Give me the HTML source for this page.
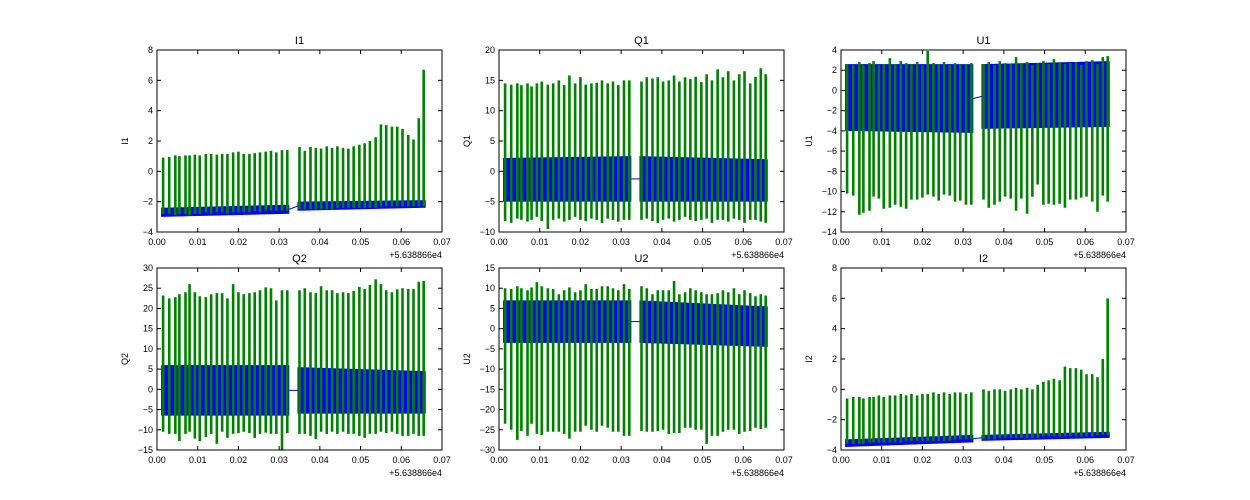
<!DOCTYPE html>
<html><head><meta charset="utf-8"><style>
html,body{margin:0;padding:0;background:#fff}
svg{display:block;font-family:"Liberation Sans","DejaVu Sans",sans-serif}
</style></head><body>
<svg id="fig" width="1250" height="500" viewBox="0 0 1250 500" xmlns="http://www.w3.org/2000/svg"></svg>
<script>
const spikeTimes=[0.0015,0.003,0.0045,0.0055,0.007,0.008,0.0093,0.0105,0.012,0.0133,0.0147,0.016,0.0173,0.0187,0.02,0.0213,0.0227,0.024,0.0253,0.0267,0.028,0.0293,0.0307,0.032,0.035,0.0363,0.0377,0.039,0.0403,0.0417,0.043,0.0443,0.0457,0.047,0.0483,0.0497,0.051,0.0523,0.0537,0.055,0.0563,0.0577,0.059,0.0603,0.0617,0.063,0.0643,0.0655];
const xTicks=[0,0.01,0.02,0.03,0.04,0.05,0.06,0.07];
const xTickLabels=["0.00","0.01","0.02","0.03","0.04","0.05","0.06","0.07"];
const bandTimes=[[0.001,0.0325],[0.0345,0.066]];

const i1Tops=[0.9,0.95,1.05,1.0,1.05,1.05,1.1,1.05,1.15,1.15,1.1,1.15,1.15,1.25,1.3,1.15,1.15,1.2,1.25,1.3,1.35,1.25,1.4,1.4,1.6,1.35,1.6,1.55,1.5,1.65,1.55,1.65,1.55,1.5,1.65,1.75,1.85,2.0,2.25,3.1,3.05,2.95,2.95,2.8,2.4,2.1,3.5,6.7];
const i1Bottoms=[-2.8,-2.8,-2.9,-2.8,-2.8,-2.9,-2.8,-2.8,-2.7,-2.8,-2.7,-2.7,-2.8,-2.7,-2.7,-2.7,-2.7,-2.6,-2.7,-2.6,-2.6,-2.6,-2.6,-2.6,-2.5,-2.5,-2.5,-2.5,-2.5,-2.5,-2.5,-2.4,-2.4,-2.4,-2.4,-2.4,-2.4,-2.4,-2.4,-2.3,-2.3,-2.3,-2.3,-2.3,-2.3,-2.3,-2.3,-2.3];
const i1Band=[[-3.0,-2.4,-2.8,-2.2],[-2.6,-2.0,-2.4,-1.9]];

const q1Tops=[14.5,14.3,14.5,14.2,14.5,14.0,14.5,14.8,14.3,14.5,15.0,14.2,15.8,14.5,15.5,14.3,14.5,14.6,15.0,14.5,14.8,14.2,15.0,15.0,14.8,15.5,15.3,15.5,14.8,15.0,15.8,14.8,15.5,15.2,15.6,14.7,16.0,15.0,16.8,15.5,16.5,15.0,16.0,16.5,14.5,15.6,17.0,16.0];
const q1Bottoms=[-8.2,-8.5,-7.8,-8.0,-8.3,-8.0,-7.5,-8.2,-9.5,-8.0,-7.8,-8.3,-8.0,-7.5,-8.0,-8.2,-7.8,-8.0,-8.5,-7.8,-8.0,-8.3,-8.0,-8.0,-8.0,-7.8,-8.2,-8.5,-8.0,-7.8,-8.3,-8.0,-7.5,-8.0,-8.2,-8.0,-7.8,-8.5,-8.0,-8.0,-8.3,-7.8,-8.0,-8.5,-8.0,-8.0,-8.3,-8.5];
const q1Band=[[-5,2.2,-5,2.5],[-5,2.5,-5,2.0]];

const u1Tops=[2.6,2.5,2.8,2.5,2.7,2.9,2.5,2.6,3.2,2.6,2.9,2.7,2.6,2.8,2.5,3.9,2.7,2.6,2.8,2.5,2.7,2.6,2.6,2.7,2.6,2.8,2.5,2.9,2.7,2.6,3.3,2.6,2.8,2.5,2.7,2.9,2.6,3.1,2.8,2.6,2.7,2.8,2.5,2.9,3.0,2.6,3.3,3.4];
const u1Bottoms=[-10.2,-10.4,-12.3,-12.1,-11.9,-10.5,-10.7,-11.7,-11.6,-11.3,-11.5,-11.7,-10.8,-10.8,-10.6,-10.3,-10.5,-10.9,-10.3,-10.4,-11.0,-10.9,-11.3,-11.3,-10.8,-11.6,-11.3,-11.0,-10.5,-10.7,-11.9,-10.7,-12.2,-10.5,-9.3,-11.3,-11.2,-11.3,-11.2,-11.6,-10.8,-10.8,-10.6,-10.5,-11.0,-12.0,-10.4,-11.0];
const u1Band=[[-4.0,2.6,-4.2,2.6],[-3.8,2.6,-3.6,2.9]];

const q2Tops=[23.2,22.5,22.8,23.5,24.0,26.0,24.0,23.0,22.8,23.5,23.8,23.8,22.5,26.0,24.0,23.5,23.8,24.0,24.5,25.2,25.0,22.0,24.5,24.5,24.5,25.0,24.0,23.8,25.5,24.5,24.5,23.8,24.0,23.8,24.3,25.3,24.8,25.8,27.2,26.0,24.5,24.0,24.7,25.0,24.8,24.8,26.6,26.8];
const q2Bottoms=[-10.5,-11.0,-11.0,-12.8,-11.0,-10.5,-12.2,-12.8,-11.8,-11.0,-13.5,-10.5,-12.0,-11.0,-10.8,-10.5,-10.8,-12.0,-11.0,-10.7,-11.0,-11.0,-15.0,-10.8,-11.0,-11.0,-11.5,-12.3,-10.5,-11.0,-10.5,-11.0,-10.5,-11.0,-11.0,-11.5,-12.0,-11.0,-11.0,-10.5,-10.8,-10.5,-11.0,-11.5,-11.5,-11.0,-11.5,-11.5];
const q2Band=[[-6.5,6.0,-6.5,6.0],[-6.0,5.5,-6.0,4.5]];

const u2Tops=[10.0,9.8,10.5,10.0,9.5,10.2,11.5,10.5,10.0,9.8,8.5,9.5,10.2,9.0,9.5,11.0,9.8,9.8,10.5,10.5,10.0,9.5,11.0,9.8,10.5,10.0,8.5,9.5,9.5,9.5,11.8,8.5,9.0,10.0,9.5,9.0,8.5,8.5,8.8,9.5,9.0,10.0,8.5,9.5,8.8,8.0,8.5,8.2];
const u2Bottoms=[-23.5,-25.0,-27.5,-25.3,-26.5,-23.5,-26.0,-26.3,-25.5,-25.5,-25.5,-26.0,-27.2,-25.5,-25.5,-24.0,-25.0,-25.5,-24.0,-24.5,-25.5,-25.5,-26.5,-26.5,-25.3,-25.5,-25.5,-25.3,-25.0,-26.0,-25.8,-25.8,-24.5,-24.5,-25.0,-25.0,-28.5,-26.5,-26.5,-25.5,-25.0,-25.0,-26.0,-25.5,-25.3,-24.5,-24.8,-24.5];
const u2Band=[[-3.5,7.0,-3.5,7.0],[-3.5,7.0,-4.5,5.5]];

const i2Tops=[-0.6,-0.5,-0.5,-0.6,-0.5,-0.5,-0.4,-0.5,-0.4,-0.4,-0.3,-0.4,-0.3,-0.4,-0.3,-0.3,-0.2,-0.3,-0.2,-0.3,-0.2,-0.2,-0.3,-0.2,0.0,-0.1,0.0,0.0,-0.1,0.0,0.1,0.0,0.1,0.0,0.3,0.5,0.6,0.7,0.6,1.5,1.4,1.4,1.3,1.0,1.0,0.8,2.0,6.0];
const i2Bottoms=[-3.6,-3.6,-3.6,-3.6,-3.5,-3.5,-3.5,-3.5,-3.5,-3.5,-3.5,-3.4,-3.4,-3.4,-3.4,-3.4,-3.4,-3.4,-3.4,-3.4,-3.3,-3.3,-3.3,-3.3,-3.3,-3.3,-3.3,-3.2,-3.2,-3.2,-3.2,-3.2,-3.2,-3.2,-3.2,-3.1,-3.1,-3.1,-3.1,-3.1,-3.1,-3.1,-3.1,-3.1,-3.1,-3.0,-3.0,-3.0];
const i2Band=[[-3.8,-3.3,-3.5,-3.0],[-3.4,-3.0,-3.2,-2.8]];

const panels=[
 {name:"I1",x:157,y:50,ymin:-4,ymax:8,step:2,tops:i1Tops,bottoms:i1Bottoms,band:i1Band},
 {name:"Q1",x:499,y:50,ymin:-10,ymax:20,step:5,tops:q1Tops,bottoms:q1Bottoms,band:q1Band},
 {name:"U1",x:841,y:50,ymin:-14,ymax:4,step:2,tops:u1Tops,bottoms:u1Bottoms,band:u1Band},
 {name:"Q2",x:157,y:268,ymin:-15,ymax:30,step:5,tops:q2Tops,bottoms:q2Bottoms,band:q2Band},
 {name:"U2",x:499,y:268,ymin:-30,ymax:15,step:5,tops:u2Tops,bottoms:u2Bottoms,band:u2Band},
 {name:"I2",x:841,y:268,ymin:-4,ymax:8,step:2,tops:i2Tops,bottoms:i2Bottoms,band:i2Band}
];
const W=285,H=182;
const NS="http://www.w3.org/2000/svg";
const fig=document.getElementById('fig');
function mk(tag,attrs,parent){const e=document.createElementNS(NS,tag);for(const k in attrs)e.setAttribute(k,attrs[k]);parent.appendChild(e);return e;}
panels.forEach(p=>{
 const g=mk('g',{},fig);
 
 
 const sx=v=>p.x+v/0.07*W;
 const sy=v=>p.y+H-(v-p.ymin)/(p.ymax-p.ymin)*H;
 const clipId='c'+p.name;
 const cp=mk('clipPath',{id:clipId},g);mk('rect',{x:p.x,y:p.y,width:W,height:H},cp);
 const plot=mk('g',{'clip-path':'url(#'+clipId+')'},g);
 
 
 // blue band
 p.band.forEach((b,i)=>{
  const t=bandTimes[i];
  const poly=mk('polygon',{points:`${sx(t[0])},${sy(b[0])} ${sx(t[1])},${sy(b[2])} ${sx(t[1])},${sy(b[3])} ${sx(t[0])},${sy(b[1])}`,fill:'#0000ff'},plot);
  
  
 });
 const b0=p.band[0],b1=p.band[1];
 const conn=mk('line',{x1:sx(bandTimes[0][1]),y1:sy((b0[2]+b0[3])/2),x2:sx(bandTimes[1][0]),y2:sy((b1[0]+b1[1])/2),stroke:'#0000ff','stroke-width':1},plot);
 
 
 // green spikes
 spikeTimes.forEach((t,i)=>{
  const l=mk('line',{x1:sx(t),x2:sx(t),y1:sy(p.tops[i]),y2:sy(p.bottoms[i]),stroke:'#008000','stroke-width':2.6},plot);
  
  
 });
 // frame
 const fr=mk('rect',{x:p.x,y:p.y,width:W,height:H,fill:'none',stroke:'#000','stroke-width':1},g);
 
 
 // x ticks
 xTicks.forEach((t,i)=>{
  const x=sx(t);
  mk('line',{x1:x,x2:x,y1:p.y+H,y2:p.y+H-4,stroke:'#000'},g);
  mk('line',{x1:x,x2:x,y1:p.y,y2:p.y+4,stroke:'#000'},g);
  const tx=mk('text',{x:x,y:p.y+H+13,'font-size':9,'text-anchor':'middle',fill:'#000'},g);
  tx.textContent=xTickLabels[i];
  
  
 });
 for(let v=p.ymin;v<=p.ymax+1e-9;v+=p.step){
  const y=sy(v);
  mk('line',{x1:p.x,x2:p.x+4,y1:y,y2:y,stroke:'#000'},g);
  mk('line',{x1:p.x+W,x2:p.x+W-4,y1:y,y2:y,stroke:'#000'},g);
  const tx=mk('text',{x:p.x-4,y:y+3,'font-size':9,'text-anchor':'end',fill:'#000'},g);
  tx.textContent=(v<0?'\u2212':'')+Math.abs(v);
  
  
 }
 const ti=mk('text',{x:p.x+W/2,y:p.y-6,'font-size':11,'text-anchor':'middle',fill:'#000'},g);
 ti.textContent=p.name;
 
 
 const yl=mk('text',{x:p.x-29,y:p.y+H/2,'font-size':9,'text-anchor':'middle',fill:'#000',transform:`rotate(-90 ${p.x-29} ${p.y+H/2})`},g);
 yl.textContent=p.name;
 
 
 const off=mk('text',{x:p.x+W,y:p.y+H+26,'font-size':9,'text-anchor':'end',fill:'#000'},g);
 off.textContent='+5.638866e4';
 
 
});
</script>
</body></html>
